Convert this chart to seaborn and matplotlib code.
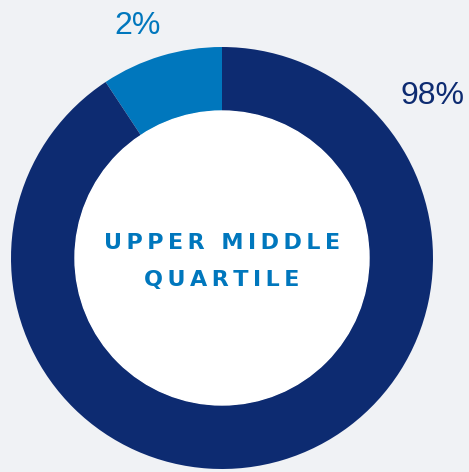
import numpy as np
import matplotlib.pyplot as plt
import seaborn as sns

# ===== Data =====
categories = ["Other", "Upper middle quartile"]
label_text = ["98%", "2%"]
# visible share of each slice as drawn in the picture (small slice is enlarged)
shares = [90.7, 9.3]
center_title = "UPPER MIDDLE\nQUARTILE"

navy = "#0d2b71"
blue = "#0077bd"
bg = "#f0f2f5"

# ===== Plot settings =====
sns.set_theme(style="white")
plt.rcParams['font.family'] = ['Liberation Sans', 'DejaVu Sans']

fig = plt.figure(figsize=(4.69, 4.72), dpi=100, facecolor=bg)
ax = fig.add_axes([0, 0, 1, 1])
ax.set_facecolor(bg)

cx, cy = 222, 472 - 258
outer, ring = 211, 64

# blue slice first, starting at 12 o'clock going counter-clockwise
ax.pie(shares[::-1], colors=[blue, navy], startangle=90, counterclock=True,
       radius=outer, center=(cx, cy), frame=True,
       wedgeprops=dict(width=ring, linewidth=0))
ax.add_patch(plt.Circle((cx, cy), outer - ring, color="white", zorder=3))
ax.set_xlim(0, 469)
ax.set_ylim(0, 472)
ax.set_aspect('equal')
ax.axis('off')

# percentage labels
ax.text(138, 472 - 26, label_text[1], color=blue, fontsize=23,
        ha='center', va='center')
ax.text(433, 472 - 96, label_text[0], color=navy, fontsize=23,
        ha='center', va='center')

# centre title, spaced out letters
def spaced(s):
    return "\u2009".join(s)

lines = center_title.split("\n")
for i, line in enumerate(lines):
    ax.text(cx, 472 - 243 - 37 * i, spaced(line), color=blue, fontsize=16,
            fontweight='bold', ha='center', va='center', zorder=4,
            family=['DejaVu Sans'])

plt.savefig("out.png", dpi=100, facecolor=bg)
